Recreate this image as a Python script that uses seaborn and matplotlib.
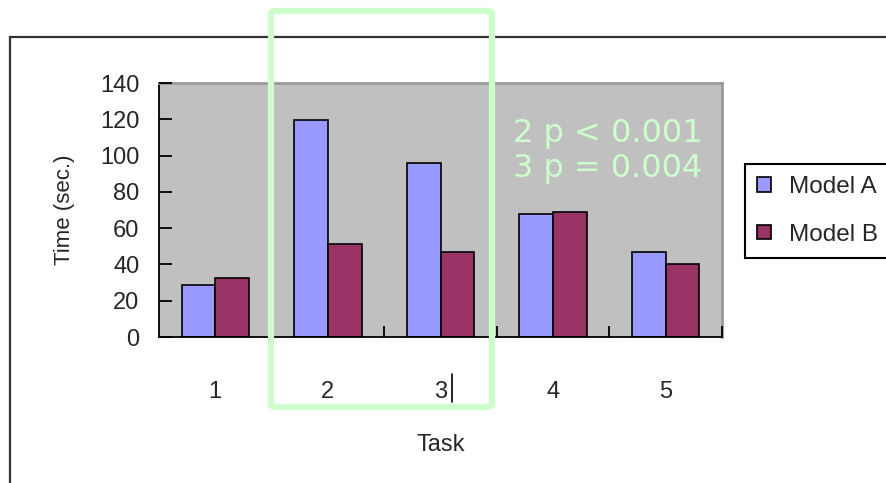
import pandas as pd
import seaborn as sns
import matplotlib.pyplot as plt
from matplotlib.patches import Rectangle, FancyBboxPatch
from matplotlib.lines import Line2D
from matplotlib.ticker import FixedLocator

# chart data
tasks = ["1", "2", "3", "4", "5"]
model_a = [28.5, 119.5, 96, 68, 47]
model_b = [32.5, 51.5, 47, 69, 40]
series_names = ["Model A", "Model B"]
y_ticks = [0, 20, 40, 60, 80, 100, 120, 140]
note_lines = ["2 p < 0.001", "3 p = 0.004"]

COLORS = ["#9999ff", "#993366"]
NOTE_GREEN = "#ccffcc"

# long form frame for seaborn
rows = []
for name, vals in zip(series_names, [model_a, model_b]):
	for t, v in zip(tasks, vals):
		rows.append({"Task": t, "Time": v, "Model": name})
data_df = pd.DataFrame(rows)

sns.set_style("ticks")
plt.rcParams["font.family"] = ["Liberation Sans", "DejaVu Sans"]

fig = plt.figure(figsize=(8.86, 4.83), dpi=100)
ax = fig.add_axes([159 / 886, 1 - 337 / 483, 563 / 886, 254 / 483])

sns.barplot(data=data_df, x="Task", y="Time", hue="Model", order=tasks,
	hue_order=series_names, palette=COLORS, saturation=1, width=0.6,
	edgecolor="black", linewidth=1.2, ax=ax)

ax.set_facecolor("#c0c0c0")
ax.set_axisbelow(False)
ax.set_ylim(0, 140)
ax.set_xlim(-0.5, len(tasks) - 0.5)
ax.set_yticks(y_ticks)

# spines: black left/bottom, grey top/right
for side in ["left", "bottom"]:
	ax.spines[side].set_color("black")
	ax.spines[side].set_linewidth(1.3)
for side in ["top", "right"]:
	ax.spines[side].set_visible(True)
	ax.spines[side].set_color("#999999")
	ax.spines[side].set_linewidth(2.0)

# category labels at centres, tick marks at boundaries
ax.xaxis.set_minor_locator(FixedLocator([i + 0.5 for i in range(len(tasks) - 1)] + [len(tasks) - 0.5]))
ax.tick_params(axis="x", which="major", bottom=True, length=0, pad=32, labelsize=17)
ax.tick_params(axis="x", which="minor", bottom=True, direction="in", length=8, width=1.3, color="black")
ax.yaxis.set_ticks_position("left")
ax.tick_params(axis="y", which="major", left=True, right=False, direction="in", length=9,
	width=1.3, color="black", pad=14, labelsize=17)
ax.tick_params(axis="y", which="minor", left=False, right=False)

ax.set_xlabel("Task", fontsize=17, labelpad=22)
ax.set_ylabel("Time (sec.)", fontsize=16, labelpad=18)

# legend outside, right side (cut by the figure edge)
handles, labels = ax.get_legend_handles_labels()
ax.legend(handles, labels, loc="upper left", bbox_to_anchor=(745 / 886, 1 - 164 / 483),
	bbox_transform=fig.transFigure, borderaxespad=0, frameon=True, fancybox=False,
	edgecolor="black", framealpha=1, fontsize=17.5, handlelength=0.55, handleheight=0.55,
	handletextpad=0.75, labelspacing=1.05, borderpad=0.5)
ax.get_legend().get_frame().set_linewidth(1.5)

# p value note in light green
fig.text(513 / 886, 1 - 118 / 483, "\n".join(note_lines), color=NOTE_GREEN,
	fontsize=23, family="DejaVu Sans", va="top", ha="left", linespacing=1.15)

# outer frame of the pasted chart
fig.add_artist(Rectangle((10 / 886, -0.2), 1.2, 1.2 - 37 / 483, transform=fig.transFigure,
	fill=False, edgecolor="#333333", linewidth=1.6))

# green highlight box round tasks 2 and 3
fig.add_artist(FancyBboxPatch((271 / 886, 1 - 407 / 483), 221 / 886, 396 / 483,
	boxstyle="round,pad=0,rounding_size=0.006", transform=fig.transFigure,
	fill=False, edgecolor=NOTE_GREEN, linewidth=4.5, zorder=10))

# text cursor next to "3"
fig.add_artist(Line2D([452 / 886, 452 / 886], [1 - 374 / 483, 1 - 402 / 483],
	transform=fig.transFigure, color="black", linewidth=1.2))

fig.savefig("out.png", dpi=100)
